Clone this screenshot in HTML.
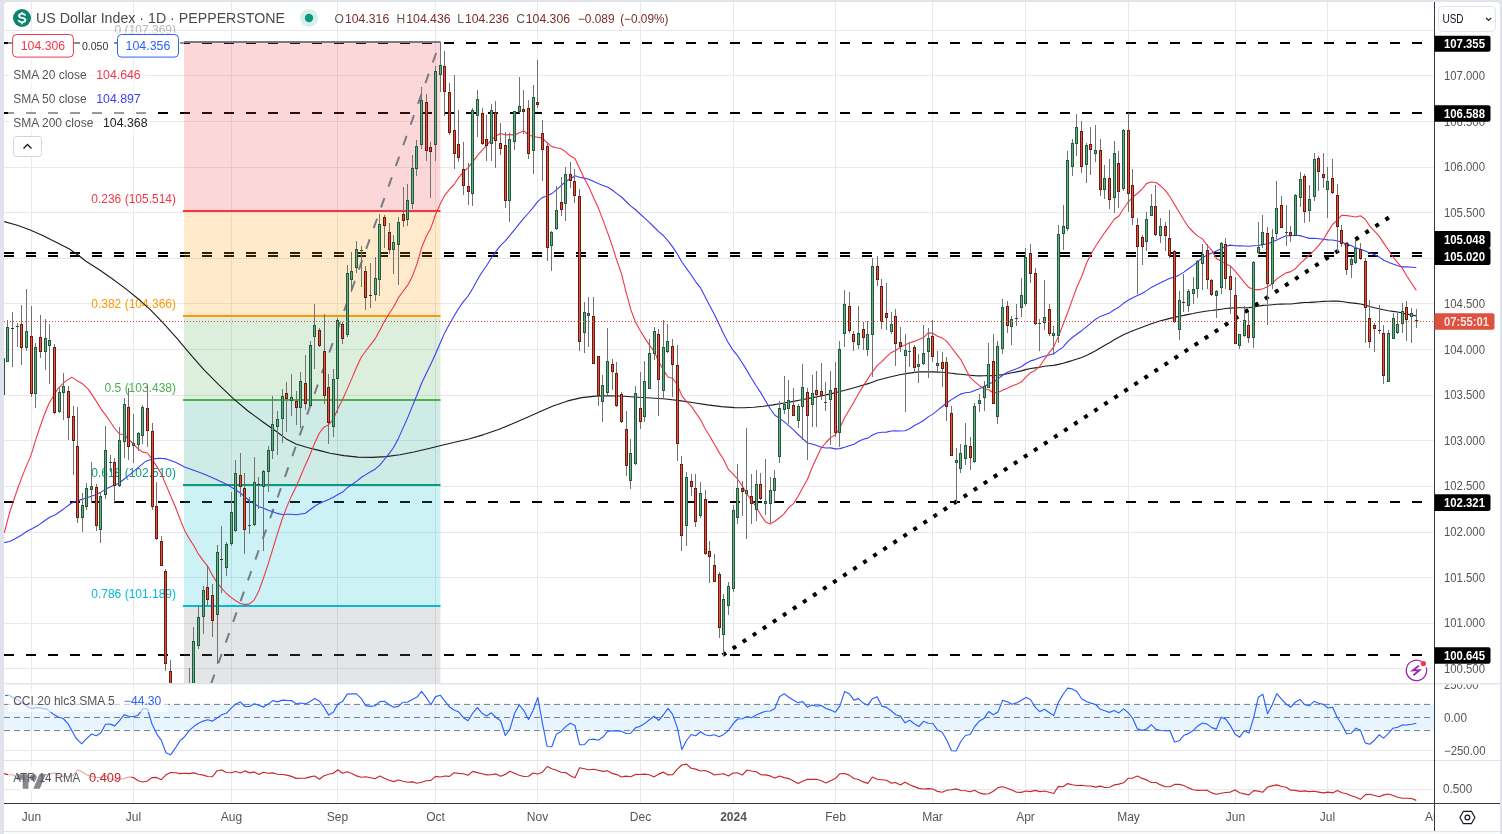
<!DOCTYPE html>
<html><head><meta charset="utf-8"><title>US Dollar Index</title>
<style>
html,body{margin:0;padding:0;background:#e0e3eb;width:1502px;height:834px;overflow:hidden;font-family:"Liberation Sans",sans-serif;}
svg{position:absolute;left:0;top:0;display:block;will-change:transform}
text{font-family:"Liberation Sans",sans-serif;}
</style></head><body>
<svg width="1502" height="834" viewBox="0 0 1502 834">
<defs>
<clipPath id="cpAll"><path d="M4 834V6a4 4 0 0 1 4-4H1496a4 4 0 0 1 4 4V834z"/></clipPath>
<clipPath id="cpMain"><rect x="4" y="2" width="1430" height="681"/></clipPath>
<clipPath id="cpCci"><rect x="4" y="684.4" width="1430" height="75"/></clipPath>
<clipPath id="cpAtr"><rect x="4" y="761" width="1430" height="42"/></clipPath>
<clipPath id="cpCciAx"><rect x="1435" y="684.4" width="65" height="75"/></clipPath>
<clipPath id="cpTime"><rect x="4" y="804" width="1430" height="27"/></clipPath>
</defs>
<path d="M4 834V6a4 4 0 0 1 4-4H1496a4 4 0 0 1 4 4V834z" fill="#ffffff"/>
<g clip-path="url(#cpAll)">
<path d="M31.5 2V803 M133.5 2V803 M231.5 2V803 M337.5 2V803 M435.5 2V803 M537.5 2V803 M640.5 2V803 M733.5 2V803 M835.5 2V803 M932.5 2V803 M1025.5 2V803 M1128.5 2V803 M1235.5 2V803 M1327.5 2V803 M4 75.5H1434 M4 121.5H1434 M4 167.5H1434 M4 212.5H1434 M4 258.5H1434 M4 303.5H1434 M4 349.5H1434 M4 395.5H1434 M4 440.5H1434 M4 486.5H1434 M4 532.5H1434 M4 577.5H1434 M4 623.5H1434 M4 668.5H1434 M4 30.5H1434 M4 750.5H1434 M4 789.5H1434" stroke="#e9e9eb" stroke-width="1" fill="none" shape-rendering="crispEdges"/>
<g clip-path="url(#cpMain)">
<path d="M4 43.0H1432" stroke="#000" stroke-width="2" stroke-dasharray="10 12" fill="none" shape-rendering="crispEdges"/>
<path d="M4 113.0H1432" stroke="#000" stroke-width="2" stroke-dasharray="10 12" fill="none" shape-rendering="crispEdges"/>
<path d="M4 253.0H1432" stroke="#000" stroke-width="2" stroke-dasharray="10 12" fill="none" shape-rendering="crispEdges"/>
<path d="M4 256.0H1432" stroke="#000" stroke-width="2" stroke-dasharray="10 12" fill="none" shape-rendering="crispEdges"/>
<path d="M4 502.0H1432" stroke="#000" stroke-width="2" stroke-dasharray="10 12" fill="none" shape-rendering="crispEdges"/>
<path d="M4 655.0H1432" stroke="#000" stroke-width="2" stroke-dasharray="10 12" fill="none" shape-rendering="crispEdges"/>
<rect x="184" y="41.7" width="256.5" height="169.2" fill="#f23645" fill-opacity="0.2"/>
<rect x="184" y="211.0" width="256.5" height="104.7" fill="#ff9800" fill-opacity="0.2"/>
<rect x="184" y="315.7" width="256.5" height="84.7" fill="#4caf50" fill-opacity="0.2"/>
<rect x="184" y="400.3" width="256.5" height="84.7" fill="#089981" fill-opacity="0.2"/>
<rect x="184" y="485.0" width="256.5" height="120.5" fill="#00bcd4" fill-opacity="0.2"/>
<rect x="184" y="605.5" width="256.5" height="153.4" fill="#787b86" fill-opacity="0.2"/>
<path d="M211 684L440.2 41.7" stroke="#787b86" stroke-width="2" stroke-dasharray="10 12" fill="none"/>
<text x="176" y="33.7" font-size="12" fill="#787b86" fill-opacity="0.55" text-anchor="end">0 (107.369)</text>
<text x="176" y="203.0" font-size="12" fill="#f23645" text-anchor="end">0.236 (105.514)</text>
<text x="176" y="307.7" font-size="12" fill="#ff9800" text-anchor="end">0.382 (104.366)</text>
<text x="176" y="392.3" font-size="12" fill="#4caf50" text-anchor="end">0.5 (103.438)</text>
<text x="176" y="477.0" font-size="12" fill="#089981" text-anchor="end">0.618 (102.510)</text>
<text x="176" y="597.5" font-size="12" fill="#00bcd4" text-anchor="end">0.786 (101.189)</text>
<rect x="183" y="41" width="257.5" height="2" fill="#787b86"/>
<rect x="183" y="210" width="257.5" height="2" fill="#f23645"/>
<rect x="183" y="315" width="257.5" height="2" fill="#ff9800"/>
<rect x="183" y="399" width="257.5" height="2" fill="#4caf50"/>
<rect x="183" y="484" width="257.5" height="2" fill="#089981"/>
<rect x="183" y="605" width="257.5" height="2" fill="#00bcd4"/>
<path d="M722.73 655.10L1389.04 217.39" stroke="#000" stroke-width="4" stroke-dasharray="4 8.015" fill="none"/>
<path d="M4.3 221.6 L17.3 225.3 L30.2 230.0 L43.2 235.7 L56.1 242.2 L69.0 248.7 L77.7 254.8 L86.3 261.5 L99.3 269.7 L112.2 278.8 L125.2 288.4 L138.1 298.7 L151.0 310.4 L164.0 323.8 L177.0 338.3 L190.0 353.8 L203.8 369.7 L219.2 385.1 L233.6 398.8 L248.0 411.0 L263.3 422.2 L276.7 431.7 L286.3 438.9 L295.9 443.9 L307.4 447.5 L318.9 450.4 L330.0 453.2 L344.0 455.6 L358.0 457.1 L372.0 457.4 L385.9 456.6 L399.9 454.8 L413.9 452.0 L427.9 448.7 L441.9 445.3 L455.8 442.0 L469.8 438.7 L483.8 434.6 L497.8 429.7 L511.8 424.1 L525.8 418.1 L539.7 411.8 L553.7 405.8 L567.7 400.9 L581.7 397.6 L595.7 396.1 L609.6 395.8 L623.6 396.3 L637.6 397.2 L651.6 398.0 L665.6 399.0 L679.6 400.6 L693.5 402.8 L707.5 404.9 L721.5 406.6 L734.6 407.6 L744.2 407.7 L753.8 407.2 L763.4 406.2 L773.0 404.9 L782.5 403.3 L792.1 401.6 L801.7 399.7 L811.3 397.9 L820.9 396.0 L830.5 393.9 L840.1 391.5 L849.7 389.0 L859.3 386.3 L868.9 383.4 L877.4 380.3 L888.9 377.3 L899.6 374.8 L909.2 373.1 L918.8 371.9 L932.9 371.9 L937.5 372.1 L942.2 372.3 L946.8 372.7 L951.5 373.3 L956.1 373.9 L960.8 374.2 L965.4 374.7 L970.1 375.2 L974.7 375.6 L979.4 375.9 L984.0 375.7 L988.7 375.6 L993.3 375.7 L998.0 375.3 L1002.6 374.6 L1007.3 373.7 L1011.9 372.7 L1016.6 371.9 L1021.2 370.9 L1025.9 369.6 L1030.5 368.5 L1035.1 367.9 L1039.8 367.2 L1044.4 366.3 L1049.1 365.8 L1053.7 365.4 L1058.4 364.4 L1063.0 363.3 L1067.7 361.9 L1072.3 360.6 L1077.0 359.1 L1081.6 357.4 L1086.3 355.4 L1090.9 353.3 L1095.6 350.8 L1100.2 348.0 L1104.9 345.3 L1109.5 342.7 L1114.2 339.8 L1118.8 337.3 L1123.5 334.8 L1128.1 332.7 L1132.8 330.8 L1137.4 329.0 L1142.1 327.2 L1146.7 325.5 L1151.3 323.7 L1156.0 322.2 L1160.6 320.8 L1165.3 319.6 L1169.9 318.4 L1174.6 317.4 L1179.2 316.2 L1183.9 315.4 L1188.5 314.4 L1193.2 313.5 L1197.8 312.5 L1202.5 311.7 L1207.1 311.0 L1211.8 310.5 L1216.4 309.9 L1221.1 309.2 L1225.7 308.5 L1230.4 308.1 L1235.0 307.8 L1239.7 307.7 L1244.3 307.7 L1249.0 307.6 L1253.6 307.0 L1258.3 306.1 L1262.9 305.4 L1267.5 305.2 L1272.2 304.7 L1276.8 304.3 L1281.5 304.1 L1286.1 304.0 L1290.8 304.0 L1295.4 303.5 L1300.1 302.9 L1304.7 302.5 L1309.4 302.4 L1314.0 302.1 L1318.7 301.7 L1323.3 301.4 L1328.0 301.2 L1332.6 301.0 L1337.3 301.1 L1341.9 301.5 L1346.6 302.2 L1351.2 302.9 L1355.9 303.4 L1360.5 304.0 L1365.2 305.1 L1369.8 306.5 L1374.5 307.7 L1379.1 308.7 L1383.7 309.8 L1388.4 310.7 L1393.0 311.4 L1397.7 312.0 L1402.3 313.0 L1407.0 314.1 L1411.6 315.0 L1416.3 315.9" stroke="#1c1c1c" stroke-width="1.1" fill="none" stroke-linejoin="round"/>
<path d="M4.3 542.6 L9.7 541.5 L15.1 538.7 L21.6 535.0 L27.0 531.3 L32.4 528.5 L38.8 524.9 L44.2 521.0 L49.6 517.3 L55.0 515.0 L60.4 511.3 L65.8 507.4 L71.2 503.3 L76.6 500.9 L82.0 499.4 L88.4 497.3 L94.9 495.1 L101.4 491.9 L105.7 489.1 L110.0 487.1 L118.5 483.5 L125.3 478.2 L132.2 472.6 L139.0 466.9 L145.9 461.2 L152.7 458.9 L159.5 458.2 L166.4 458.9 L175.5 462.3 L184.6 466.9 L193.7 470.3 L205.1 474.4 L216.5 479.4 L227.9 485.1 L235.7 489.8 L240.3 493.0 L245.0 497.0 L249.6 501.0 L254.3 503.7 L258.9 506.7 L263.6 508.3 L268.2 510.3 L272.9 511.8 L277.5 513.4 L282.2 514.5 L286.8 514.2 L291.5 514.3 L296.1 514.8 L300.8 514.0 L305.4 513.3 L310.1 509.8 L314.7 506.2 L319.4 503.4 L324.0 501.6 L328.7 499.5 L333.3 497.2 L337.9 494.6 L342.6 492.1 L347.2 487.9 L351.9 484.5 L356.5 481.4 L361.2 477.5 L365.8 474.6 L370.5 471.8 L375.1 469.2 L379.8 465.1 L384.4 459.5 L389.1 453.7 L393.7 447.2 L398.4 438.4 L403.0 428.1 L407.7 417.6 L412.3 406.4 L417.0 395.0 L421.6 383.2 L426.3 373.4 L430.9 364.1 L435.6 353.7 L440.2 343.0 L444.9 332.4 L449.5 324.0 L454.1 315.9 L458.8 308.2 L463.4 301.6 L468.1 296.0 L472.7 288.5 L477.4 279.8 L482.0 272.2 L486.7 265.5 L491.3 258.0 L496.0 251.4 L500.6 245.4 L505.3 240.9 L509.9 235.3 L514.6 229.6 L519.2 223.8 L523.9 218.1 L528.5 213.0 L533.2 207.3 L537.8 201.3 L542.5 197.4 L547.1 195.9 L551.8 193.6 L556.4 189.9 L561.1 185.6 L565.7 181.5 L570.3 178.7 L575.0 175.8 L579.6 177.2 L584.3 178.1 L588.9 179.3 L593.6 181.6 L598.2 183.6 L602.9 185.4 L607.5 187.0 L612.2 190.0 L616.8 193.6 L621.5 197.0 L626.1 201.5 L630.8 206.1 L635.4 209.5 L640.1 214.0 L644.7 218.2 L649.4 222.3 L654.0 227.0 L658.7 231.6 L663.3 235.5 L668.0 240.9 L672.6 246.9 L677.3 253.9 L681.9 262.0 L686.5 268.4 L691.2 275.0 L695.8 281.8 L700.5 287.8 L705.1 296.7 L709.8 305.8 L714.4 314.6 L719.1 324.3 L723.7 334.0 L728.4 342.9 L733.0 350.2 L737.7 355.9 L742.3 363.0 L747.0 370.6 L751.6 378.5 L756.3 386.0 L760.9 392.9 L765.6 401.0 L770.2 408.7 L774.9 415.2 L779.5 418.4 L784.2 421.9 L788.8 425.7 L793.5 429.8 L798.1 434.5 L802.7 438.6 L807.4 443.0 L812.0 444.0 L816.7 445.6 L821.3 447.3 L826.0 448.0 L830.6 447.9 L835.3 448.9 L839.9 448.6 L844.6 447.3 L849.2 445.8 L853.9 444.2 L858.5 441.6 L863.2 439.2 L867.8 438.1 L872.5 435.0 L877.1 433.0 L881.8 432.3 L886.4 432.1 L891.1 431.0 L895.7 430.9 L900.4 431.0 L905.0 430.7 L909.7 428.8 L914.3 425.5 L918.9 423.2 L923.6 420.5 L928.2 416.9 L932.9 414.1 L937.5 410.3 L942.2 406.5 L946.8 403.0 L951.5 399.6 L956.1 396.8 L960.8 394.1 L965.4 392.8 L970.1 392.2 L974.7 390.5 L979.4 388.7 L984.0 386.4 L988.7 383.9 L993.3 382.1 L998.0 378.9 L1002.6 375.3 L1007.3 372.2 L1011.9 370.5 L1016.6 368.8 L1021.2 366.7 L1025.9 363.5 L1030.5 360.9 L1035.1 359.6 L1039.8 357.7 L1044.4 356.2 L1049.1 355.0 L1053.7 353.7 L1058.4 350.4 L1063.0 347.1 L1067.7 341.6 L1072.3 337.5 L1077.0 334.0 L1081.6 330.7 L1086.3 326.8 L1090.9 323.1 L1095.6 319.3 L1100.2 316.4 L1104.9 314.7 L1109.5 313.1 L1114.2 309.7 L1118.8 307.2 L1123.5 303.3 L1128.1 300.3 L1132.8 297.7 L1137.4 295.6 L1142.1 293.5 L1146.7 290.6 L1151.3 287.4 L1156.0 285.0 L1160.6 282.8 L1165.3 280.4 L1169.9 278.2 L1174.6 277.3 L1179.2 275.1 L1183.9 272.1 L1188.5 268.7 L1193.2 265.4 L1197.8 261.7 L1202.5 257.7 L1207.1 255.1 L1211.8 253.0 L1216.4 251.1 L1221.1 248.7 L1225.7 246.2 L1230.4 245.1 L1235.0 245.8 L1239.7 245.9 L1244.3 246.0 L1249.0 246.3 L1253.6 245.7 L1258.3 245.5 L1262.9 244.6 L1267.5 243.8 L1272.2 242.1 L1276.8 239.9 L1281.5 237.8 L1286.1 235.8 L1290.8 235.8 L1295.4 235.2 L1300.1 235.6 L1304.7 237.0 L1309.4 238.4 L1314.0 238.2 L1318.7 238.8 L1323.3 239.3 L1328.0 239.9 L1332.6 240.0 L1337.3 241.0 L1341.9 241.9 L1346.6 244.2 L1351.2 245.6 L1355.9 247.9 L1360.5 249.2 L1365.2 251.1 L1369.8 253.0 L1374.5 254.6 L1379.1 256.9 L1383.7 260.3 L1388.4 262.2 L1393.0 264.1 L1397.7 265.8 L1402.3 266.9 L1407.0 266.9 L1411.6 267.2 L1416.3 267.5" stroke="#3a3ff5" stroke-width="1.1" fill="none" stroke-linejoin="round"/>
<path d="M4.3 532.9 L6.5 524.2 L9.7 512.4 L12.9 502.7 L17.3 489.7 L21.6 477.9 L25.9 467.1 L30.2 457.4 L32.4 450.9 L35.6 440.1 L39.9 427.2 L44.2 415.3 L48.5 404.5 L52.8 397.0 L58.2 388.3 L64.7 381.9 L71.8 377.1 L76.6 380.4 L82.0 383.4 L88.4 389.4 L94.9 399.1 L100.9 408.8 L105.5 414.9 L110.2 421.7 L114.8 428.5 L119.5 434.0 L124.1 434.5 L128.8 439.5 L133.4 444.0 L138.1 448.8 L142.7 452.1 L147.4 453.0 L152.0 458.8 L156.7 466.4 L161.3 473.8 L166.0 484.9 L170.6 495.8 L175.3 506.7 L179.9 518.7 L184.6 530.4 L189.2 538.6 L193.9 545.8 L198.5 554.2 L203.2 560.6 L207.8 566.3 L212.5 575.4 L217.1 582.7 L221.7 588.4 L226.4 593.5 L231.0 597.4 L235.7 600.7 L240.3 603.5 L245.0 604.6 L249.6 603.9 L254.3 599.8 L258.9 590.8 L263.6 577.6 L268.2 563.9 L272.9 548.7 L277.5 533.6 L282.2 519.0 L286.8 506.9 L291.5 495.9 L296.1 486.8 L300.8 475.8 L305.4 464.9 L310.1 454.6 L314.7 442.9 L319.4 433.0 L324.0 427.2 L328.7 424.7 L333.3 419.3 L337.9 408.8 L342.6 399.5 L347.2 389.1 L351.9 378.4 L356.5 367.3 L361.2 357.3 L365.8 351.0 L370.5 344.8 L375.1 338.9 L379.8 330.2 L384.4 321.6 L389.1 313.7 L393.7 306.8 L398.4 297.7 L403.0 291.5 L407.7 285.2 L412.3 276.4 L417.0 263.9 L421.6 247.7 L426.3 236.3 L430.9 227.9 L435.6 214.5 L440.2 204.1 L444.9 195.1 L449.5 189.3 L454.1 184.5 L458.8 177.4 L463.4 171.9 L468.1 167.6 L472.7 161.9 L477.4 155.6 L482.0 150.3 L486.7 145.4 L491.3 139.8 L496.0 135.9 L500.6 133.3 L505.3 134.9 L509.9 134.6 L514.6 135.1 L519.2 132.8 L523.9 130.8 L528.5 135.0 L533.2 136.6 L537.8 137.2 L542.5 138.1 L547.1 142.8 L551.8 146.6 L556.4 147.8 L561.1 148.7 L565.7 151.9 L570.3 156.0 L575.0 158.5 L579.6 168.4 L584.3 178.5 L588.9 187.1 L593.6 197.8 L598.2 207.6 L602.9 219.9 L607.5 232.4 L612.2 245.7 L616.8 260.4 L621.5 273.8 L626.1 292.2 L630.8 309.7 L635.4 321.8 L640.1 330.5 L644.7 337.9 L649.4 345.1 L654.0 351.1 L658.7 361.5 L663.3 369.8 L668.0 377.0 L672.6 378.2 L677.3 384.8 L681.9 395.9 L686.5 401.6 L691.2 406.1 L695.8 412.9 L700.5 419.6 L705.1 428.7 L709.8 436.3 L714.4 444.3 L719.1 452.4 L723.7 459.7 L728.4 469.4 L733.0 473.8 L737.7 479.2 L742.3 486.1 L747.0 494.1 L751.6 500.3 L756.3 507.1 L760.9 515.1 L765.6 521.9 L770.2 524.1 L774.9 521.3 L779.5 517.8 L784.2 513.7 L788.8 507.6 L793.5 503.7 L798.1 496.3 L802.7 487.8 L807.4 479.5 L812.0 467.7 L816.7 457.5 L821.3 447.9 L826.0 442.5 L830.6 437.6 L835.3 434.7 L839.9 427.7 L844.6 417.7 L849.2 410.0 L853.9 402.1 L858.5 393.7 L863.2 386.1 L867.8 378.9 L872.5 371.8 L877.1 365.6 L881.8 361.7 L886.4 356.8 L891.1 352.7 L895.7 350.5 L900.4 347.1 L905.0 345.0 L909.7 342.8 L914.3 341.4 L918.9 339.5 L923.6 337.6 L928.2 332.9 L932.9 333.2 L937.5 336.2 L942.2 338.1 L946.8 341.4 L951.5 347.5 L956.1 353.6 L960.8 359.6 L965.4 368.5 L970.1 377.4 L974.7 381.6 L979.4 385.7 L984.0 388.8 L988.7 389.8 L993.3 392.7 L998.0 392.4 L1002.6 390.3 L1007.3 388.2 L1011.9 386.0 L1016.6 384.2 L1021.2 382.1 L1025.9 377.1 L1030.5 372.7 L1035.1 370.4 L1039.8 366.2 L1044.4 359.2 L1049.1 352.9 L1053.7 346.9 L1058.4 336.4 L1063.0 324.8 L1067.7 312.5 L1072.3 299.6 L1077.0 286.7 L1081.6 276.8 L1086.3 263.8 L1090.9 254.0 L1095.6 246.2 L1100.2 239.3 L1104.9 232.3 L1109.5 226.3 L1114.2 219.3 L1118.8 216.0 L1123.5 208.8 L1128.1 202.3 L1132.8 197.0 L1137.4 193.5 L1142.1 189.1 L1146.7 183.4 L1151.3 182.0 L1156.0 182.5 L1160.6 185.8 L1165.3 190.4 L1169.9 196.8 L1174.6 204.6 L1179.2 212.3 L1183.9 220.0 L1188.5 227.0 L1193.2 232.0 L1197.8 236.1 L1202.5 238.9 L1207.1 245.2 L1211.8 250.3 L1216.4 258.4 L1221.1 260.9 L1225.7 263.9 L1230.4 266.1 L1235.0 270.9 L1239.7 276.7 L1244.3 282.4 L1249.0 287.6 L1253.6 289.4 L1258.3 289.9 L1262.9 288.7 L1267.5 286.8 L1272.2 283.7 L1276.8 278.9 L1281.5 275.8 L1286.1 272.9 L1290.8 271.6 L1295.4 268.7 L1300.1 263.6 L1304.7 259.5 L1309.4 254.9 L1314.0 250.7 L1318.7 245.3 L1323.3 239.7 L1328.0 231.6 L1332.6 224.5 L1337.3 219.9 L1341.9 215.2 L1346.6 215.6 L1351.2 216.2 L1355.9 217.0 L1360.5 215.8 L1365.2 219.3 L1369.8 226.1 L1374.5 231.1 L1379.1 236.1 L1383.7 243.1 L1388.4 250.0 L1393.0 257.0 L1397.7 262.6 L1402.3 268.2 L1407.0 276.2 L1411.6 283.3 L1416.3 290.4" stroke="#f23645" stroke-width="1.1" fill="none" stroke-linejoin="round"/>
<path d="M3.5 358V395 M7.5 320V362 M12.5 312V367 M17.5 323V347 M21.5 305V365 M26.5 289V351 M31.5 306V397 M35.5 343V408 M40.5 315V358 M45.5 319V370 M49.5 324V384 M54.5 344V414 M59.5 387V413 M63.5 373V420 M68.5 386V440 M73.5 406V475 M77.5 407V523 M82.5 493V532 M86.5 483V510 M91.5 462V503 M96.5 484V531 M100.5 492V543 M105.5 426V499 M110.5 455V472 M114.5 458V502 M119.5 427V487 M124.5 398V458 M128.5 388V460 M133.5 414V463 M138.5 432V451 M142.5 405V444 M147.5 385V447 M152.5 423V510 M156.5 482V540 M161.5 536V566 M165.5 569V671 M170.5 660V740 M175.5 712V768 M179.5 703V752 M184.5 708V770 M189.5 668V722 M193.5 627V692 M198.5 606V649 M203.5 586V634 M207.5 565V606 M212.5 584V637 M217.5 545V664 M221.5 526V593 M226.5 542V576 M231.5 492V546 M235.5 460V532 M240.5 453V497 M244.5 473V554 M249.5 497V534 M254.5 457V526 M258.5 477V509 M263.5 470V551 M268.5 446V492 M272.5 396V459 M277.5 411V455 M282.5 389V443 M286.5 382V432 M291.5 374V416 M296.5 391V425 M300.5 372V428 M305.5 355V410 M310.5 341V407 M314.5 304V369 M319.5 328V347 M324.5 314V404 M328.5 374V444 M333.5 369V437 M337.5 318V413 M342.5 322V344 M347.5 265V337 M351.5 252V292 M356.5 241V273 M361.5 246V287 M365.5 266V310 M370.5 263V308 M375.5 257V301 M379.5 214V296 M384.5 215V248 M389.5 223V254 M393.5 235V274 M398.5 217V285 M403.5 187V227 M407.5 184V226 M412.5 155V209 M416.5 140V176 M421.5 87V149 M426.5 94V161 M430.5 142V198 M435.5 66V161 M440.5 42V92 M444.5 51V116 M449.5 83V135 M454.5 75V169 M458.5 110V162 M463.5 142V195 M468.5 163V205 M472.5 108V206 M477.5 90V137 M482.5 108V145 M486.5 115V161 M491.5 104V161 M495.5 101V168 M500.5 123V155 M505.5 132V208 M509.5 133V222 M514.5 111V150 M519.5 77V113 M523.5 90V134 M528.5 100V159 M533.5 85V174 M537.5 60V108 M542.5 120V181 M547.5 142V261 M551.5 231V271 M556.5 186V230 M561.5 177V216 M565.5 167V221 M570.5 162V188 M574.5 169V203 M579.5 189V351 M584.5 302V353 M588.5 297V347 M593.5 297V364 M598.5 356V406 M602.5 375V422 M607.5 328V395 M612.5 359V390 M616.5 362V407 M621.5 392V423 M626.5 411V476 M630.5 439V489 M635.5 386V465 M640.5 372V429 M644.5 361V422 M649.5 339V389 M654.5 327V360 M658.5 329V416 M663.5 320V398 M667.5 324V353 M672.5 339V397 M677.5 345V461 M681.5 456V551 M686.5 472V546 M691.5 474V496 M695.5 474V527 M700.5 482V518 M705.5 490V555 M709.5 541V583 M714.5 554V582 M719.5 572V638 M723.5 594V656 M728.5 582V615 M733.5 505V592 M737.5 464V524 M742.5 481V516 M746.5 428V539 M751.5 474V524 M756.5 470V521 M760.5 473V500 M765.5 459V515 M770.5 477V523 M774.5 470V502 M779.5 401V463 M784.5 376V414 M788.5 380V424 M793.5 388V416 M798.5 404V428 M802.5 364V440 M807.5 388V460 M812.5 375V427 M816.5 371V427 M821.5 363V400 M825.5 382V411 M830.5 371V445 M835.5 362V437 M839.5 341V447 M844.5 290V347 M849.5 292V333 M853.5 331V351 M858.5 306V349 M863.5 322V350 M867.5 321V356 M872.5 258V377 M877.5 256V286 M881.5 279V329 M886.5 283V330 M891.5 312V334 M895.5 309V366 M900.5 327V352 M905.5 334V412 M909.5 342V367 M914.5 345V373 M918.5 354V383 M923.5 325V365 M928.5 328V378 M932.5 320V362 M937.5 351V372 M942.5 352V387 M946.5 357V421 M951.5 406V456 M956.5 448V503 M960.5 444V473 M965.5 423V465 M970.5 437V470 M974.5 403V463 M979.5 394V412 M984.5 381V411 M988.5 343V388 M993.5 334V404 M997.5 341V424 M1002.5 299V354 M1007.5 301V333 M1011.5 316V345 M1016.5 304V326 M1021.5 278V317 M1025.5 248V306 M1030.5 244V283 M1035.5 268V325 M1039.5 319V351 M1044.5 280V330 M1049.5 304V336 M1053.5 326V355 M1058.5 225V343 M1063.5 205V250 M1067.5 151V231 M1072.5 139V176 M1076.5 114V156 M1081.5 121V173 M1086.5 143V183 M1090.5 127V175 M1095.5 125V162 M1100.5 139V196 M1104.5 165V199 M1109.5 159V209 M1114.5 141V213 M1118.5 151V208 M1123.5 129V191 M1128.5 113V212 M1132.5 169V225 M1137.5 218V294 M1142.5 235V265 M1146.5 212V251 M1151.5 194V216 M1155.5 185V236 M1160.5 218V243 M1165.5 222V251 M1169.5 210V258 M1174.5 250V323 M1179.5 291V340 M1183.5 274V312 M1188.5 289V312 M1193.5 277V304 M1197.5 260V298 M1202.5 244V290 M1207.5 244V289 M1211.5 279V296 M1216.5 290V318 M1221.5 242V294 M1225.5 238V289 M1230.5 266V314 M1235.5 277V344 M1239.5 334V349 M1244.5 306V337 M1248.5 312V343 M1253.5 261V348 M1258.5 222V254 M1262.5 215V248 M1267.5 227V325 M1272.5 229V289 M1276.5 181V239 M1281.5 196V228 M1286.5 205V246 M1290.5 226V242 M1295.5 194V236 M1300.5 172V207 M1304.5 174V223 M1309.5 185V222 M1314.5 153V201 M1318.5 156V191 M1323.5 153V188 M1327.5 167V218 M1332.5 159V194 M1337.5 184V252 M1341.5 225V247 M1346.5 242V275 M1351.5 257V278 M1355.5 240V264 M1360.5 243V260 M1365.5 258V343 M1369.5 300V348 M1374.5 323V352 M1379.5 305V334 M1383.5 325V384 M1388.5 330V382 M1393.5 313V339 M1397.5 313V334 M1402.5 303V333 M1406.5 301V341 M1411.5 308V343 M1416.5 309V328" stroke="#727272" stroke-width="1" fill="none" shape-rendering="crispEdges"/>
<path d="M2 358h3v37h-3z M6 327h3v35h-3z M16 326h3v1h-3z M25 331h3v17h-3z M34 347h3v47h-3z M44 338h3v14h-3z M48 340h3v6h-3z M58 392h3v20h-3z M62 386h3v7h-3z M81 505h3v13h-3z M85 488h3v19h-3z M90 486h3v4h-3z M99 496h3v34h-3z M104 450h3v45h-3z M109 462h3v1h-3z M118 440h3v46h-3z M123 404h3v38h-3z M132 443h3v3h-3z M137 433h3v12h-3z M141 407h3v29h-3z M174 723h3v12h-3z M183 720h3v9h-3z M188 689h3v31h-3z M192 641h3v48h-3z M197 617h3v29h-3z M202 590h3v27h-3z M216 552h3v63h-3z M225 544h3v24h-3z M230 512h3v32h-3z M234 473h3v58h-3z M248 525h3v1h-3z M253 482h3v43h-3z M262 471h3v16h-3z M267 450h3v22h-3z M271 424h3v27h-3z M276 419h3v8h-3z M281 396h3v23h-3z M290 397h3v4h-3z M299 381h3v27h-3z M309 345h3v61h-3z M313 325h3v12h-3z M332 379h3v48h-3z M336 320h3v59h-3z M346 273h3v62h-3z M350 271h3v9h-3z M355 249h3v19h-3z M360 250h3v1h-3z M374 278h3v17h-3z M378 224h3v56h-3z M392 242h3v8h-3z M397 222h3v23h-3z M406 200h3v20h-3z M411 168h3v36h-3z M415 146h3v23h-3z M420 100h3v45h-3z M434 71h3v74h-3z M439 65h3v10h-3z M471 110h3v84h-3z M476 99h3v17h-3z M490 110h3v34h-3z M508 139h3v62h-3z M513 111h3v31h-3z M518 106h3v6h-3z M532 97h3v54h-3z M550 232h3v14h-3z M555 210h3v19h-3z M564 174h3v30h-3z M583 312h3v21h-3z M587 313h3v3h-3z M601 385h3v17h-3z M606 361h3v32h-3z M629 453h3v28h-3z M634 393h3v71h-3z M643 381h3v36h-3z M648 353h3v36h-3z M653 331h3v23h-3z M662 347h3v44h-3z M666 341h3v11h-3z M685 477h3v49h-3z M699 493h3v23h-3z M722 599h3v36h-3z M727 586h3v20h-3z M732 510h3v79h-3z M736 488h3v30h-3z M745 490h3v4h-3z M755 484h3v26h-3z M764 501h3v3h-3z M769 490h3v14h-3z M773 478h3v13h-3z M778 408h3v49h-3z M783 404h3v6h-3z M787 400h3v9h-3z M797 406h3v15h-3z M801 387h3v20h-3z M811 393h3v12h-3z M824 402h3v1h-3z M829 390h3v10h-3z M838 349h3v84h-3z M843 304h3v30h-3z M857 333h3v12h-3z M866 334h3v16h-3z M871 266h3v69h-3z M890 324h3v8h-3z M904 350h3v6h-3z M908 351h3v1h-3z M917 364h3v3h-3z M922 353h3v11h-3z M927 338h3v14h-3z M936 363h3v3h-3z M955 460h3v3h-3z M959 453h3v16h-3z M964 445h3v14h-3z M973 406h3v56h-3z M978 400h3v4h-3z M983 386h3v12h-3z M987 364h3v24h-3z M996 346h3v71h-3z M1001 307h3v42h-3z M1010 319h3v8h-3z M1020 295h3v13h-3z M1024 257h3v47h-3z M1038 323h3v1h-3z M1043 317h3v6h-3z M1052 333h3v3h-3z M1057 234h3v102h-3z M1062 226h3v8h-3z M1066 160h3v69h-3z M1071 143h3v24h-3z M1075 127h3v17h-3z M1085 145h3v20h-3z M1094 150h3v4h-3z M1103 178h3v12h-3z M1113 153h3v45h-3z M1122 130h3v59h-3z M1145 219h3v23h-3z M1150 206h3v10h-3z M1159 226h3v10h-3z M1178 300h3v30h-3z M1187 291h3v15h-3z M1192 289h3v5h-3z M1196 261h3v28h-3z M1201 254h3v10h-3z M1215 291h3v5h-3z M1220 243h3v45h-3z M1238 334h3v12h-3z M1243 320h3v16h-3z M1252 262h3v76h-3z M1257 247h3v6h-3z M1261 232h3v13h-3z M1271 237h3v47h-3z M1275 208h3v26h-3z M1285 232h3v1h-3z M1294 195h3v41h-3z M1299 179h3v19h-3z M1308 199h3v12h-3z M1313 159h3v38h-3z M1326 181h3v9h-3z M1350 259h3v6h-3z M1354 248h3v15h-3z M1387 333h3v49h-3z M1392 318h3v21h-3z M1396 324h3v9h-3z M1401 311h3v13h-3z M1410 313h3v4h-3z" fill="#1f5c3c" shape-rendering="crispEdges"/>
<path d="M3 359h1v35h-1z M7 328h1v33h-1z M26 332h1v15h-1z M35 348h1v45h-1z M45 339h1v12h-1z M49 341h1v4h-1z M59 393h1v18h-1z M63 387h1v5h-1z M82 506h1v11h-1z M86 489h1v17h-1z M91 487h1v2h-1z M100 497h1v32h-1z M105 451h1v43h-1z M119 441h1v44h-1z M124 405h1v36h-1z M133 444h1v1h-1z M138 434h1v10h-1z M142 408h1v27h-1z M175 724h1v10h-1z M184 721h1v7h-1z M189 690h1v29h-1z M193 642h1v46h-1z M198 618h1v27h-1z M203 591h1v25h-1z M217 553h1v61h-1z M226 545h1v22h-1z M231 513h1v30h-1z M235 474h1v56h-1z M254 483h1v41h-1z M263 472h1v14h-1z M268 451h1v20h-1z M272 425h1v25h-1z M277 420h1v6h-1z M282 397h1v21h-1z M291 398h1v2h-1z M300 382h1v25h-1z M310 346h1v59h-1z M314 326h1v10h-1z M333 380h1v46h-1z M337 321h1v57h-1z M347 274h1v60h-1z M351 272h1v7h-1z M356 250h1v17h-1z M375 279h1v15h-1z M379 225h1v54h-1z M393 243h1v6h-1z M398 223h1v21h-1z M407 201h1v18h-1z M412 169h1v34h-1z M416 147h1v21h-1z M421 101h1v43h-1z M435 72h1v72h-1z M440 66h1v8h-1z M472 111h1v82h-1z M477 100h1v15h-1z M491 111h1v32h-1z M509 140h1v60h-1z M514 112h1v29h-1z M519 107h1v4h-1z M533 98h1v52h-1z M551 233h1v12h-1z M556 211h1v17h-1z M565 175h1v28h-1z M584 313h1v19h-1z M588 314h1v1h-1z M602 386h1v15h-1z M607 362h1v30h-1z M630 454h1v26h-1z M635 394h1v69h-1z M644 382h1v34h-1z M649 354h1v34h-1z M654 332h1v21h-1z M663 348h1v42h-1z M667 342h1v9h-1z M686 478h1v47h-1z M700 494h1v21h-1z M723 600h1v34h-1z M728 587h1v18h-1z M733 511h1v77h-1z M737 489h1v28h-1z M746 491h1v2h-1z M756 485h1v24h-1z M765 502h1v1h-1z M770 491h1v12h-1z M774 479h1v11h-1z M779 409h1v47h-1z M784 405h1v4h-1z M788 401h1v7h-1z M798 407h1v13h-1z M802 388h1v18h-1z M812 394h1v10h-1z M830 391h1v8h-1z M839 350h1v82h-1z M844 305h1v28h-1z M858 334h1v10h-1z M867 335h1v14h-1z M872 267h1v67h-1z M891 325h1v6h-1z M905 351h1v4h-1z M918 365h1v1h-1z M923 354h1v9h-1z M928 339h1v12h-1z M937 364h1v1h-1z M956 461h1v1h-1z M960 454h1v14h-1z M965 446h1v12h-1z M974 407h1v54h-1z M979 401h1v2h-1z M984 387h1v10h-1z M988 365h1v22h-1z M997 347h1v69h-1z M1002 308h1v40h-1z M1011 320h1v6h-1z M1021 296h1v11h-1z M1025 258h1v45h-1z M1044 318h1v4h-1z M1053 334h1v1h-1z M1058 235h1v100h-1z M1063 227h1v6h-1z M1067 161h1v67h-1z M1072 144h1v22h-1z M1076 128h1v15h-1z M1086 146h1v18h-1z M1095 151h1v2h-1z M1104 179h1v10h-1z M1114 154h1v43h-1z M1123 131h1v57h-1z M1146 220h1v21h-1z M1151 207h1v8h-1z M1160 227h1v8h-1z M1179 301h1v28h-1z M1188 292h1v13h-1z M1193 290h1v3h-1z M1197 262h1v26h-1z M1202 255h1v8h-1z M1216 292h1v3h-1z M1221 244h1v43h-1z M1239 335h1v10h-1z M1244 321h1v14h-1z M1253 263h1v74h-1z M1258 248h1v4h-1z M1262 233h1v11h-1z M1272 238h1v45h-1z M1276 209h1v24h-1z M1295 196h1v39h-1z M1300 180h1v17h-1z M1309 200h1v10h-1z M1314 160h1v36h-1z M1327 182h1v7h-1z M1351 260h1v4h-1z M1355 249h1v13h-1z M1388 334h1v47h-1z M1393 319h1v19h-1z M1397 325h1v7h-1z M1402 312h1v11h-1z M1411 314h1v2h-1z" fill="#6da886" shape-rendering="crispEdges"/>
<path d="M11 328h3v1h-3z M20 324h3v24h-3z M30 336h3v58h-3z M39 337h3v15h-3z M53 347h3v66h-3z M67 391h3v27h-3z M72 416h3v25h-3z M76 446h3v72h-3z M95 487h3v39h-3z M113 462h3v24h-3z M127 407h3v40h-3z M146 408h3v23h-3z M151 431h3v76h-3z M155 506h3v33h-3z M160 541h3v25h-3z M164 571h3v93h-3z M169 671h3v64h-3z M178 722h3v7h-3z M206 587h3v13h-3z M211 595h3v26h-3z M220 559h3v1h-3z M239 475h3v12h-3z M243 488h3v42h-3z M257 484h3v1h-3z M285 393h3v6h-3z M295 401h3v7h-3z M304 383h3v21h-3z M318 330h3v16h-3z M323 351h3v45h-3z M327 387h3v36h-3z M341 324h3v15h-3z M364 271h3v27h-3z M369 295h3v1h-3z M383 217h3v9h-3z M388 232h3v18h-3z M402 214h3v7h-3z M425 102h3v49h-3z M429 147h3v5h-3z M443 66h3v26h-3z M448 92h3v41h-3z M453 130h3v24h-3z M457 144h3v14h-3z M462 169h3v17h-3z M467 186h3v6h-3z M481 113h3v31h-3z M485 139h3v7h-3z M494 112h3v29h-3z M499 143h3v6h-3z M504 145h3v56h-3z M522 109h3v3h-3z M527 108h3v46h-3z M536 102h3v3h-3z M541 133h3v17h-3z M546 146h3v102h-3z M560 202h3v8h-3z M569 174h3v7h-3z M573 181h3v15h-3z M578 196h3v146h-3z M592 316h3v48h-3z M597 356h3v40h-3z M611 364h3v8h-3z M615 373h3v33h-3z M620 394h3v28h-3z M625 429h3v37h-3z M639 408h3v14h-3z M657 334h3v46h-3z M671 346h3v19h-3z M676 365h3v79h-3z M680 464h3v72h-3z M690 481h3v6h-3z M694 488h3v34h-3z M704 499h3v55h-3z M708 551h3v6h-3z M713 565h3v17h-3z M718 574h3v54h-3z M741 488h3v4h-3z M750 496h3v8h-3z M759 484h3v15h-3z M792 405h3v11h-3z M806 392h3v24h-3z M815 390h3v5h-3z M820 391h3v5h-3z M834 388h3v45h-3z M848 306h3v25h-3z M852 334h3v8h-3z M862 329h3v9h-3z M876 266h3v14h-3z M880 286h3v36h-3z M885 313h3v5h-3z M894 316h3v28h-3z M899 342h3v5h-3z M913 347h3v21h-3z M931 336h3v21h-3z M941 362h3v7h-3z M945 362h3v45h-3z M950 413h3v43h-3z M969 446h3v12h-3z M992 361h3v43h-3z M1006 306h3v20h-3z M1015 318h3v1h-3z M1029 253h3v21h-3z M1034 273h3v51h-3z M1048 309h3v25h-3z M1080 131h3v36h-3z M1089 144h3v6h-3z M1099 150h3v40h-3z M1108 178h3v22h-3z M1117 163h3v29h-3z M1127 130h3v64h-3z M1131 185h3v33h-3z M1136 225h3v22h-3z M1141 237h3v10h-3z M1154 206h3v29h-3z M1164 226h3v10h-3z M1168 238h3v18h-3z M1173 251h3v71h-3z M1182 302h3v1h-3z M1206 250h3v30h-3z M1210 280h3v15h-3z M1224 244h3v35h-3z M1229 276h3v14h-3z M1234 295h3v49h-3z M1247 325h3v13h-3z M1266 233h3v51h-3z M1280 205h3v23h-3z M1289 232h3v4h-3z M1303 176h3v36h-3z M1317 158h3v14h-3z M1322 174h3v4h-3z M1331 178h3v15h-3z M1336 195h3v32h-3z M1340 230h3v14h-3z M1345 243h3v27h-3z M1359 249h3v10h-3z M1364 261h3v47h-3z M1368 318h3v24h-3z M1373 325h3v4h-3z M1378 330h3v1h-3z M1382 333h3v43h-3z M1405 307h3v13h-3z M1415 320h3v1h-3z" fill="#6a1b10" shape-rendering="crispEdges"/>
<path d="M21 325h1v22h-1z M31 337h1v56h-1z M40 338h1v13h-1z M54 348h1v64h-1z M68 392h1v25h-1z M73 417h1v23h-1z M77 447h1v70h-1z M96 488h1v37h-1z M114 463h1v22h-1z M128 408h1v38h-1z M147 409h1v21h-1z M152 432h1v74h-1z M156 507h1v31h-1z M161 542h1v23h-1z M165 572h1v91h-1z M170 672h1v62h-1z M179 723h1v5h-1z M207 588h1v11h-1z M212 596h1v24h-1z M240 476h1v10h-1z M244 489h1v40h-1z M286 394h1v4h-1z M296 402h1v5h-1z M305 384h1v19h-1z M319 331h1v14h-1z M324 352h1v43h-1z M328 388h1v34h-1z M342 325h1v13h-1z M365 272h1v25h-1z M384 218h1v7h-1z M389 233h1v16h-1z M403 215h1v5h-1z M426 103h1v47h-1z M430 148h1v3h-1z M444 67h1v24h-1z M449 93h1v39h-1z M454 131h1v22h-1z M458 145h1v12h-1z M463 170h1v15h-1z M468 187h1v4h-1z M482 114h1v29h-1z M486 140h1v5h-1z M495 113h1v27h-1z M500 144h1v4h-1z M505 146h1v54h-1z M523 110h1v1h-1z M528 109h1v44h-1z M537 103h1v1h-1z M542 134h1v15h-1z M547 147h1v100h-1z M561 203h1v6h-1z M570 175h1v5h-1z M574 182h1v13h-1z M579 197h1v144h-1z M593 317h1v46h-1z M598 357h1v38h-1z M612 365h1v6h-1z M616 374h1v31h-1z M621 395h1v26h-1z M626 430h1v35h-1z M640 409h1v12h-1z M658 335h1v44h-1z M672 347h1v17h-1z M677 366h1v77h-1z M681 465h1v70h-1z M691 482h1v4h-1z M695 489h1v32h-1z M705 500h1v53h-1z M709 552h1v4h-1z M714 566h1v15h-1z M719 575h1v52h-1z M742 489h1v2h-1z M751 497h1v6h-1z M760 485h1v13h-1z M793 406h1v9h-1z M807 393h1v22h-1z M816 391h1v3h-1z M821 392h1v3h-1z M835 389h1v43h-1z M849 307h1v23h-1z M853 335h1v6h-1z M863 330h1v7h-1z M877 267h1v12h-1z M881 287h1v34h-1z M886 314h1v3h-1z M895 317h1v26h-1z M900 343h1v3h-1z M914 348h1v19h-1z M932 337h1v19h-1z M942 363h1v5h-1z M946 363h1v43h-1z M951 414h1v41h-1z M970 447h1v10h-1z M993 362h1v41h-1z M1007 307h1v18h-1z M1030 254h1v19h-1z M1035 274h1v49h-1z M1049 310h1v23h-1z M1081 132h1v34h-1z M1090 145h1v4h-1z M1100 151h1v38h-1z M1109 179h1v20h-1z M1118 164h1v27h-1z M1128 131h1v62h-1z M1132 186h1v31h-1z M1137 226h1v20h-1z M1142 238h1v8h-1z M1155 207h1v27h-1z M1165 227h1v8h-1z M1169 239h1v16h-1z M1174 252h1v69h-1z M1207 251h1v28h-1z M1211 281h1v13h-1z M1225 245h1v33h-1z M1230 277h1v12h-1z M1235 296h1v47h-1z M1248 326h1v11h-1z M1267 234h1v49h-1z M1281 206h1v21h-1z M1290 233h1v2h-1z M1304 177h1v34h-1z M1318 159h1v12h-1z M1323 175h1v2h-1z M1332 179h1v13h-1z M1337 196h1v30h-1z M1341 231h1v12h-1z M1346 244h1v25h-1z M1360 250h1v8h-1z M1365 262h1v45h-1z M1369 319h1v22h-1z M1374 326h1v2h-1z M1383 334h1v41h-1z M1406 308h1v11h-1z" fill="#de5640" shape-rendering="crispEdges"/>
<path d="M4 321.5H1434" stroke="#d9503c" stroke-width="1" stroke-dasharray="1 2" fill="none" shape-rendering="crispEdges"/>
</g>
<g clip-path="url(#cpCci)">
<rect x="4" y="704.4" width="1430" height="26.2" fill="#2196f3" fill-opacity="0.1"/>
<path d="M4 704.4H1434" stroke="#787b86" stroke-width="1" stroke-dasharray="6 4" fill="none"/>
<path d="M4 717.5H1434" stroke="#787b86" stroke-width="1" stroke-dasharray="6 4" fill="none"/>
<path d="M4 730.6H1434" stroke="#787b86" stroke-width="1" stroke-dasharray="6 4" fill="none"/>
<path d="M5.0 695.7 L8.9 695.0 L12.6 697.5 L20.2 701.3 L26.6 705.9 L31.6 708.4 L36.7 707.6 L41.7 708.1 L46.8 709.4 L53.1 713.9 L58.2 717.0 L63.2 718.5 L68.3 724.1 L75.9 738.0 L81.7 743.8 L86.0 739.2 L91.6 734.0 L96.3 735.7 L100.9 732.7 L105.5 724.3 L110.2 724.1 L114.8 725.9 L119.5 720.6 L124.1 714.9 L128.8 716.2 L133.4 716.8 L138.1 715.2 L142.7 708.8 L147.4 708.7 L152.0 724.1 L156.7 733.8 L161.3 740.4 L166.0 752.8 L170.6 754.8 L175.3 748.2 L179.9 740.9 L184.6 736.7 L189.2 730.7 L193.9 726.3 L198.5 723.2 L203.2 721.1 L207.8 719.7 L212.5 721.1 L217.1 718.1 L221.7 714.7 L226.4 713.3 L231.0 708.4 L235.7 704.1 L240.3 702.0 L245.0 706.5 L249.6 706.5 L254.3 703.7 L258.9 705.3 L263.6 707.1 L268.2 704.0 L272.9 700.6 L277.5 701.9 L282.2 700.1 L286.8 700.4 L291.5 700.6 L296.1 703.7 L300.8 703.0 L305.4 703.9 L310.1 701.4 L314.7 698.5 L319.4 701.2 L324.0 707.2 L328.7 715.1 L333.3 712.2 L337.9 704.1 L342.6 701.4 L347.2 694.1 L351.9 693.9 L356.5 693.9 L361.2 698.3 L365.8 705.6 L370.5 706.4 L375.1 705.8 L379.8 701.6 L384.4 701.3 L389.1 704.8 L393.7 707.2 L398.4 706.4 L403.0 702.2 L407.7 702.1 L412.3 699.4 L417.0 697.1 L421.6 691.4 L426.3 697.6 L430.9 704.8 L435.6 696.6 L440.2 695.2 L444.9 701.1 L449.5 706.9 L454.1 709.9 L458.8 712.1 L463.4 717.7 L468.1 720.8 L472.7 713.2 L477.4 707.7 L482.0 713.2 L486.7 716.0 L491.3 712.8 L496.0 717.5 L500.6 720.8 L505.3 735.5 L509.9 729.1 L514.6 713.2 L519.2 705.0 L523.9 710.6 L528.5 719.5 L533.2 710.2 L537.8 697.4 L542.5 723.7 L547.1 746.5 L551.8 746.7 L556.4 734.2 L561.1 731.4 L565.7 726.6 L570.3 723.2 L575.0 725.4 L579.6 744.7 L584.3 744.7 L588.9 739.8 L593.6 739.1 L598.2 740.2 L602.9 737.1 L607.5 731.4 L612.2 730.8 L616.8 730.9 L621.5 731.3 L626.1 733.5 L630.8 733.2 L635.4 727.9 L640.1 726.3 L644.7 723.6 L649.4 719.8 L654.0 716.2 L658.7 720.3 L663.3 715.0 L668.0 708.4 L672.6 714.4 L677.3 727.6 L681.9 749.6 L686.5 740.5 L691.2 734.5 L695.8 735.8 L700.5 731.7 L705.1 734.8 L709.8 735.8 L714.4 734.8 L719.1 736.7 L723.7 734.4 L728.4 730.5 L733.0 723.9 L737.7 719.0 L742.3 718.8 L747.0 716.5 L751.6 717.8 L756.3 715.0 L760.9 712.9 L765.6 711.2 L770.2 711.0 L774.9 708.4 L779.5 696.7 L784.2 693.8 L788.8 697.3 L793.5 700.3 L798.1 702.7 L802.7 701.6 L807.4 707.1 L812.0 705.0 L816.7 706.2 L821.3 705.4 L826.0 708.5 L830.6 709.9 L835.3 712.2 L839.9 705.9 L844.6 691.6 L849.2 693.7 L853.9 700.1 L858.5 698.6 L863.2 703.1 L867.8 705.2 L872.5 698.7 L877.1 696.7 L881.8 706.1 L886.4 707.4 L891.1 710.8 L895.7 714.8 L900.4 716.1 L905.0 722.8 L909.7 720.3 L914.3 723.8 L918.9 726.5 L923.6 721.3 L928.2 723.2 L932.9 723.5 L937.5 730.0 L942.2 732.3 L946.8 740.3 L951.5 750.7 L956.1 751.0 L960.8 741.5 L965.4 735.5 L970.1 734.5 L974.7 726.5 L979.4 721.1 L984.0 718.4 L988.7 711.5 L993.3 714.7 L998.0 711.9 L1002.6 700.4 L1007.3 701.7 L1011.9 704.3 L1016.6 702.9 L1021.2 700.3 L1025.9 697.4 L1030.5 699.5 L1035.1 707.1 L1039.8 711.7 L1044.4 709.2 L1049.1 712.4 L1053.7 715.6 L1058.4 702.4 L1063.0 694.5 L1067.7 688.1 L1072.3 688.9 L1077.0 691.7 L1081.6 698.7 L1086.3 701.5 L1090.9 703.1 L1095.6 704.5 L1100.2 709.2 L1104.9 710.7 L1109.5 712.4 L1114.2 710.5 L1118.8 712.9 L1123.5 708.9 L1128.1 712.6 L1132.8 718.5 L1137.4 728.9 L1142.1 730.4 L1146.7 729.0 L1151.3 724.7 L1156.0 729.3 L1160.6 730.5 L1165.3 730.7 L1169.9 730.5 L1174.6 742.0 L1179.2 740.8 L1183.9 735.3 L1188.5 733.6 L1193.2 730.6 L1197.8 725.9 L1202.5 723.0 L1207.1 724.1 L1211.8 727.6 L1216.4 729.1 L1221.1 717.2 L1225.7 719.1 L1230.4 725.6 L1235.0 734.0 L1239.7 737.2 L1244.3 730.7 L1249.0 733.1 L1253.6 717.9 L1258.3 697.3 L1262.9 694.3 L1267.5 713.7 L1272.2 704.7 L1276.8 693.6 L1281.5 699.1 L1286.1 704.0 L1290.8 707.2 L1295.4 702.0 L1300.1 699.4 L1304.7 704.8 L1309.4 705.8 L1314.0 701.3 L1318.7 703.3 L1323.3 704.4 L1328.0 708.0 L1332.6 707.2 L1337.3 717.5 L1341.9 724.8 L1346.6 733.8 L1351.2 733.3 L1355.9 728.2 L1360.5 730.2 L1365.2 742.9 L1369.8 744.2 L1374.5 740.2 L1379.1 734.8 L1383.7 738.1 L1388.4 733.4 L1393.0 728.2 L1397.7 727.2 L1402.3 725.1 L1407.0 724.9 L1411.6 724.3 L1416.3 723.3" stroke="#2962ff" stroke-width="1.15" fill="none" stroke-linejoin="round"/>
</g>
<g clip-path="url(#cpAtr)">
<path d="M4.0 773.6 L7.9 774.6 L12.6 774.7 L17.2 777.8 L21.9 777.3 L26.5 776.6 L31.2 773.2 L35.8 772.6 L40.5 774.0 L45.1 774.6 L49.8 774.4 L54.4 772.7 L59.1 775.8 L63.7 776.6 L68.4 776.8 L73.0 775.4 L77.7 769.8 L82.3 771.9 L87.0 774.9 L91.6 776.4 L96.3 777.2 L100.9 777.6 L105.5 775.8 L110.2 779.0 L114.8 779.9 L119.5 779.2 L124.1 778.6 L128.8 776.9 L133.4 777.5 L138.1 780.8 L142.7 782.0 L147.4 781.0 L152.0 777.6 L156.7 777.4 L161.3 779.7 L166.0 774.8 L170.6 772.6 L175.3 772.8 L179.9 773.6 L184.6 773.2 L189.2 773.6 L193.9 772.9 L198.5 774.3 L203.2 775.1 L207.8 776.5 L212.5 776.7 L217.1 770.7 L221.7 770.0 L226.4 772.5 L231.0 772.8 L235.7 771.5 L240.3 773.0 L245.0 770.9 L249.6 772.9 L254.3 771.9 L258.9 774.4 L263.6 772.2 L268.2 773.3 L272.9 772.9 L277.5 774.2 L282.2 774.5 L286.8 775.1 L291.5 776.4 L296.1 778.4 L300.8 778.2 L305.4 778.1 L310.1 776.9 L314.7 776.0 L319.4 779.2 L324.0 775.7 L328.7 774.3 L333.3 773.3 L337.9 769.8 L342.6 773.3 L347.2 771.8 L351.9 773.5 L356.5 775.9 L361.2 777.3 L365.8 776.8 L370.5 777.7 L375.1 778.7 L379.8 776.1 L384.4 778.2 L389.1 780.3 L393.7 781.6 L398.4 780.0 L403.0 781.2 L407.7 782.2 L412.3 781.9 L417.0 783.3 L421.6 782.2 L426.3 780.7 L430.9 780.4 L435.6 776.4 L440.2 777.0 L444.9 776.0 L449.5 776.4 L454.1 772.7 L458.8 773.4 L463.4 773.8 L468.1 775.3 L472.7 771.4 L477.4 772.6 L482.0 773.7 L486.7 774.9 L491.3 774.8 L496.0 773.9 L500.6 776.3 L505.3 774.4 L509.9 771.3 L514.6 773.3 L519.2 775.3 L523.9 776.5 L528.5 776.2 L533.2 773.0 L537.8 774.0 L542.5 772.2 L547.1 766.5 L551.8 768.8 L556.4 770.2 L561.1 772.2 L565.7 772.6 L570.3 775.7 L575.0 777.8 L579.6 767.7 L584.3 768.8 L588.9 769.8 L593.6 769.2 L598.2 770.2 L602.9 771.4 L607.5 770.7 L612.2 773.4 L616.8 774.6 L621.5 777.0 L626.1 776.1 L630.8 776.7 L635.4 774.4 L640.1 774.5 L644.7 774.1 L649.4 774.8 L654.0 777.0 L658.7 774.1 L663.3 772.1 L668.0 774.9 L672.6 774.8 L677.3 769.2 L681.9 765.0 L686.5 764.1 L691.2 768.2 L695.8 769.1 L700.5 771.0 L705.1 770.5 L709.8 772.2 L714.4 775.0 L719.1 774.2 L723.7 773.7 L728.4 776.0 L733.0 773.0 L737.7 772.9 L742.3 775.1 L747.0 770.0 L751.6 771.0 L756.3 771.8 L760.9 774.8 L765.6 774.9 L770.2 775.9 L774.9 778.1 L779.5 776.0 L784.2 777.6 L788.8 778.6 L793.5 781.0 L798.1 783.6 L802.7 781.2 L807.4 779.2 L812.0 779.4 L816.7 779.2 L821.3 780.7 L826.0 782.9 L830.6 780.7 L835.3 778.6 L839.9 773.7 L844.6 773.5 L849.2 775.1 L853.9 778.5 L858.5 779.5 L863.2 781.9 L867.8 783.4 L872.5 777.0 L877.1 779.3 L881.8 779.7 L886.4 780.3 L891.1 783.1 L895.7 782.5 L900.4 785.0 L905.0 782.2 L909.7 784.7 L914.3 786.6 L918.9 788.4 L923.6 789.0 L928.2 788.6 L932.9 789.0 L937.5 791.4 L942.2 792.2 L946.8 790.3 L951.5 789.8 L956.1 788.9 L960.8 790.5 L965.4 790.7 L970.1 791.8 L974.7 790.3 L979.4 792.9 L984.0 794.1 L988.7 793.8 L993.3 791.2 L998.0 787.6 L1002.6 786.8 L1007.3 788.3 L1011.9 790.0 L1016.6 792.2 L1021.2 792.4 L1025.9 791.0 L1030.5 791.6 L1035.1 790.4 L1039.8 791.6 L1044.4 791.0 L1049.1 792.2 L1053.7 793.5 L1058.4 786.4 L1063.0 786.7 L1067.7 783.6 L1072.3 784.8 L1077.0 785.5 L1081.6 785.2 L1086.3 786.0 L1090.9 786.0 L1095.6 787.1 L1100.2 786.1 L1104.9 787.5 L1109.5 787.2 L1114.2 784.9 L1118.8 784.1 L1123.5 782.8 L1128.1 778.3 L1132.8 778.1 L1137.4 776.0 L1142.1 778.4 L1146.7 779.9 L1151.3 782.5 L1156.0 782.5 L1160.6 784.9 L1165.3 786.8 L1169.9 786.7 L1174.6 784.4 L1179.2 784.4 L1183.9 785.5 L1188.5 787.9 L1193.2 789.7 L1197.8 790.4 L1202.5 790.3 L1207.1 790.3 L1211.8 792.9 L1216.4 794.3 L1221.1 793.3 L1225.7 792.5 L1230.4 792.1 L1235.0 789.9 L1239.7 792.7 L1244.3 793.9 L1249.0 794.9 L1253.6 790.6 L1258.3 791.1 L1262.9 792.2 L1267.5 787.1 L1272.2 785.9 L1276.8 784.9 L1281.5 786.5 L1286.1 787.2 L1290.8 790.2 L1295.4 790.4 L1300.1 791.4 L1304.7 790.9 L1309.4 791.6 L1314.0 791.3 L1318.7 792.1 L1323.3 792.9 L1328.0 792.1 L1332.6 792.9 L1337.3 790.6 L1341.9 792.8 L1346.6 793.7 L1351.2 795.7 L1355.9 797.2 L1360.5 799.3 L1365.2 794.9 L1369.8 794.3 L1374.5 795.5 L1379.1 796.7 L1383.7 794.9 L1388.4 794.0 L1393.0 795.5 L1397.7 797.3 L1402.3 798.3 L1407.0 798.2 L1411.6 798.5 L1416.3 800.4" stroke="#c62828" stroke-width="1.15" fill="none" stroke-linejoin="round"/>
</g>
<rect x="4" y="683" width="1496" height="1.4" fill="#e0e3eb"/>
<rect x="4" y="760" width="1496" height="1" fill="#e0e3eb"/>
<rect x="1434" y="2" width="1" height="829" fill="#36383f"/>
<rect x="4" y="803" width="1496" height="1" fill="#36383f"/>
<rect x="4" y="831" width="1496" height="1.2" fill="#e0e3eb"/>
<text x="1444" y="79.9" font-size="12" fill="#555555" textLength="41" lengthAdjust="spacingAndGlyphs">107.000</text>
<text x="1444" y="125.5" font-size="12" fill="#555555" textLength="41" lengthAdjust="spacingAndGlyphs">106.500</text>
<text x="1444" y="171.1" font-size="12" fill="#555555" textLength="41" lengthAdjust="spacingAndGlyphs">106.000</text>
<text x="1444" y="216.7" font-size="12" fill="#555555" textLength="41" lengthAdjust="spacingAndGlyphs">105.500</text>
<text x="1444" y="262.3" font-size="12" fill="#555555" textLength="41" lengthAdjust="spacingAndGlyphs">105.000</text>
<text x="1444" y="308.0" font-size="12" fill="#555555" textLength="41" lengthAdjust="spacingAndGlyphs">104.500</text>
<text x="1444" y="353.6" font-size="12" fill="#555555" textLength="41" lengthAdjust="spacingAndGlyphs">104.000</text>
<text x="1444" y="399.2" font-size="12" fill="#555555" textLength="41" lengthAdjust="spacingAndGlyphs">103.500</text>
<text x="1444" y="444.8" font-size="12" fill="#555555" textLength="41" lengthAdjust="spacingAndGlyphs">103.000</text>
<text x="1444" y="490.4" font-size="12" fill="#555555" textLength="41" lengthAdjust="spacingAndGlyphs">102.500</text>
<text x="1444" y="536.0" font-size="12" fill="#555555" textLength="41" lengthAdjust="spacingAndGlyphs">102.000</text>
<text x="1444" y="581.6" font-size="12" fill="#555555" textLength="41" lengthAdjust="spacingAndGlyphs">101.500</text>
<text x="1444" y="627.2" font-size="12" fill="#555555" textLength="41" lengthAdjust="spacingAndGlyphs">101.000</text>
<text x="1444" y="672.8" font-size="12" fill="#555555" textLength="41" lengthAdjust="spacingAndGlyphs">100.500</text>
<g clip-path="url(#cpCciAx)"><text x="1444" y="688.5" font-size="12" fill="#555555" textLength="34.5" lengthAdjust="spacingAndGlyphs">250.00</text></g>
<text x="1444" y="721.5" font-size="12" fill="#555555" textLength="23" lengthAdjust="spacingAndGlyphs">0.00</text>
<text x="1444" y="754.5" font-size="12" fill="#555555" textLength="41.5" lengthAdjust="spacingAndGlyphs">−250.00</text>
<text x="1443" y="792.8" font-size="12" fill="#555555" textLength="29.3" lengthAdjust="spacingAndGlyphs">0.500</text>
<path d="M1434.5 35.8H1488.5a2 2 0 0 1 2 2V49.8a2 2 0 0 1 -2 2H1434.5z" fill="#000"/>
<text x="1444" y="48.0" font-size="12" font-weight="bold" fill="#fff" textLength="41" lengthAdjust="spacingAndGlyphs">107.355</text>
<path d="M1434.5 105.2H1488.5a2 2 0 0 1 2 2V119.8a2 2 0 0 1 -2 2H1434.5z" fill="#000"/>
<text x="1444" y="117.7" font-size="12" font-weight="bold" fill="#fff" textLength="41" lengthAdjust="spacingAndGlyphs">106.588</text>
<path d="M1434.5 231.1H1488.5a2 2 0 0 1 2 2V246.1a2 2 0 0 1 -2 2H1434.5z" fill="#000"/>
<text x="1444" y="243.8" font-size="12" font-weight="bold" fill="#fff" textLength="41" lengthAdjust="spacingAndGlyphs">105.048</text>
<path d="M1434.5 248.0H1488.5a2 2 0 0 1 2 2V263.0a2 2 0 0 1 -2 2H1434.5z" fill="#000"/>
<text x="1444" y="260.7" font-size="12" font-weight="bold" fill="#fff" textLength="41" lengthAdjust="spacingAndGlyphs">105.020</text>
<path d="M1434.5 494.3H1488.5a2 2 0 0 1 2 2V508.9a2 2 0 0 1 -2 2H1434.5z" fill="#000"/>
<text x="1444" y="506.8" font-size="12" font-weight="bold" fill="#fff" textLength="41" lengthAdjust="spacingAndGlyphs">102.321</text>
<path d="M1434.5 647.2H1488.5a2 2 0 0 1 2 2V661.8a2 2 0 0 1 -2 2H1434.5z" fill="#000"/>
<text x="1444" y="659.7" font-size="12" font-weight="bold" fill="#fff" textLength="41" lengthAdjust="spacingAndGlyphs">100.645</text>
<path d="M1434.5 313.2H1492.5a2 2 0 0 1 2 2V327.8a2 2 0 0 1 -2 2H1434.5z" fill="#dc5140"/>
<text x="1444" y="325.7" font-size="12" font-weight="bold" fill="#fbe3df" textLength="45" lengthAdjust="spacingAndGlyphs">07:55:01</text>
<text x="31.5" y="820.8" font-size="12" fill="#555555" text-anchor="middle">Jun</text>
<text x="133.5" y="820.8" font-size="12" fill="#555555" text-anchor="middle">Jul</text>
<text x="231.5" y="820.8" font-size="12" fill="#555555" text-anchor="middle">Aug</text>
<text x="337.5" y="820.8" font-size="12" fill="#555555" text-anchor="middle">Sep</text>
<text x="435.5" y="820.8" font-size="12" fill="#555555" text-anchor="middle">Oct</text>
<text x="537.5" y="820.8" font-size="12" fill="#555555" text-anchor="middle">Nov</text>
<text x="640.5" y="820.8" font-size="12" fill="#555555" text-anchor="middle">Dec</text>
<text x="733.5" y="820.8" font-size="12" fill="#555555" text-anchor="middle" font-weight="bold">2024</text>
<text x="835.5" y="820.8" font-size="12" fill="#555555" text-anchor="middle">Feb</text>
<text x="932.5" y="820.8" font-size="12" fill="#555555" text-anchor="middle">Mar</text>
<text x="1025.5" y="820.8" font-size="12" fill="#555555" text-anchor="middle">Apr</text>
<text x="1128.5" y="820.8" font-size="12" fill="#555555" text-anchor="middle">May</text>
<text x="1235.5" y="820.8" font-size="12" fill="#555555" text-anchor="middle">Jun</text>
<text x="1327.5" y="820.8" font-size="12" fill="#555555" text-anchor="middle">Jul</text>
<g clip-path="url(#cpTime)"><text x="1424.9" y="820.8" font-size="12" fill="#555555">Aug</text></g>
</g>
<rect x="8" y="64" width="137" height="22" fill="#fff" fill-opacity="0.6"/>
<rect x="8" y="88" width="137" height="22" fill="#fff" fill-opacity="0.6"/>
<rect x="8" y="112" width="142" height="22" fill="#fff" fill-opacity="0.6"/>
<rect x="8" y="690" width="160" height="22" fill="#fff" fill-opacity="0.6"/>
<rect x="8" y="767" width="123" height="22" fill="#fff" fill-opacity="0.6"/>
<circle cx="22" cy="18" r="9" fill="#0c8470"/>
<text x="22" y="22.9" font-size="14.4" font-weight="bold" fill="#fff" text-anchor="middle">S</text>
<rect x="21.3" y="12" width="1.5" height="1.6" fill="#fff"/><rect x="21.3" y="22.7" width="1.5" height="1.6" fill="#fff"/>
<text x="36" y="23.3" font-size="14" fill="#4a4a4a" textLength="249" lengthAdjust="spacingAndGlyphs">US Dollar Index · 1D · PEPPERSTONE</text>
<circle cx="309" cy="18" r="9" fill="#089981" fill-opacity="0.16"/>
<circle cx="309" cy="18" r="4.2" fill="#089981"/>
<text x="334.6" y="22.6" font-size="12" fill="#5a5a5a">O</text>
<text x="345" y="22.6" font-size="12" fill="#7c2a2a" textLength="44.2" lengthAdjust="spacingAndGlyphs">104.316</text>
<text x="396.5" y="22.6" font-size="12" fill="#5a5a5a">H</text>
<text x="406.3" y="22.6" font-size="12" fill="#7c2a2a" textLength="44.2" lengthAdjust="spacingAndGlyphs">104.436</text>
<text x="457.2" y="22.6" font-size="12" fill="#5a5a5a">L</text>
<text x="464.9" y="22.6" font-size="12" fill="#7c2a2a" textLength="44.2" lengthAdjust="spacingAndGlyphs">104.236</text>
<text x="516.3" y="22.6" font-size="12" fill="#5a5a5a">C</text>
<text x="525.8" y="22.6" font-size="12" fill="#7c2a2a" textLength="44.2" lengthAdjust="spacingAndGlyphs">104.306</text>
<text x="577.9" y="22.6" font-size="12" fill="#7c2a2a" textLength="36.6" lengthAdjust="spacingAndGlyphs">−0.089</text>
<text x="620.2" y="22.6" font-size="12" fill="#7c2a2a" textLength="48.2" lengthAdjust="spacingAndGlyphs">(−0.09%)</text>
<rect x="8" y="32" width="176" height="28" fill="#fff" fill-opacity="0.55"/>
<rect x="81" y="38" width="28" height="16" fill="#fff"/>
<rect x="12.6" y="34.5" width="60.8" height="22.6" rx="4" fill="#fff" stroke="#f23645" stroke-width="1"/>
<text x="20.8" y="50.2" font-size="12" fill="#f23645" textLength="44.3" lengthAdjust="spacingAndGlyphs">104.306</text>
<text x="81.9" y="49.6" font-size="10.3" fill="#333" textLength="26.4" lengthAdjust="spacingAndGlyphs">0.050</text>
<rect x="117.5" y="34.5" width="61" height="22.6" rx="4" fill="#fff" stroke="#2962ff" stroke-width="1"/>
<text x="125.6" y="50.2" font-size="12" fill="#2962ff" textLength="44.7" lengthAdjust="spacingAndGlyphs">104.356</text>
<text x="13.3" y="79.1" font-size="12" fill="#555555" textLength="73.4" lengthAdjust="spacingAndGlyphs">SMA 20 close</text>
<text x="96.2" y="79.1" font-size="12" fill="#f23645" textLength="44.5" lengthAdjust="spacingAndGlyphs">104.646</text>
<text x="13.3" y="102.6" font-size="12" fill="#555555" textLength="73.4" lengthAdjust="spacingAndGlyphs">SMA 50 close</text>
<text x="96.2" y="102.6" font-size="12" fill="#3a3ff5" textLength="44.5" lengthAdjust="spacingAndGlyphs">104.897</text>
<text x="13.3" y="126.8" font-size="12" fill="#555555" textLength="80.1" lengthAdjust="spacingAndGlyphs">SMA 200 close</text>
<text x="103" y="126.8" font-size="12" fill="#222" textLength="44.5" lengthAdjust="spacingAndGlyphs">104.368</text>
<rect x="13.5" y="136.5" width="28" height="20" rx="3" fill="#fff" stroke="#d1d4dc" stroke-width="1"/>
<path d="M23.5 148.5l4-4 4 4" stroke="#131722" stroke-width="1.3" fill="none"/>
<text x="13.2" y="704.8" font-size="12" fill="#555555" textLength="101.5" lengthAdjust="spacingAndGlyphs">CCI 20 hlc3 SMA 5</text>
<text x="123.8" y="704.8" font-size="12" fill="#2962ff" textLength="37.5" lengthAdjust="spacingAndGlyphs">−44.30</text>
<rect x="20" y="767" width="22.5" height="24" fill="#fff" fill-opacity="0.9"/>
<g transform="translate(17,770.9) scale(0.815)" fill="#868993"><path d="M14 22H7V11H0V4h14v18zM28 22h-8l7.5-18h8L28 22z"/><circle cx="20" cy="8" r="4"/></g>
<text x="13.3" y="781.8" font-size="12" fill="#555555" textLength="67" lengthAdjust="spacingAndGlyphs">ATR 14 RMA</text>
<text x="89" y="781.8" font-size="12" fill="#c62828" textLength="32" lengthAdjust="spacingAndGlyphs">0.409</text>
<rect x="1438.5" y="6.5" width="57" height="25" rx="4" fill="#fff" stroke="#e0e3eb" stroke-width="1"/>
<text x="1442.5" y="23" font-size="12" fill="#131722" textLength="21" lengthAdjust="spacingAndGlyphs">USD</text>
<path d="M1486 17.8l2.6 2.6 2.6-2.6" stroke="#131722" stroke-width="1.2" fill="none"/>
<circle cx="1416.4" cy="670.3" r="11.5" fill="#fff"/>
<path d="M1421.6 661.6A10.2 10.2 0 1 0 1426.2 667.4" stroke="#9c27b0" stroke-width="1.3" fill="none"/>
<path d="M1418.8 665.8l-6.1 4.7l6.8 -0.3l-6.1 5" stroke="#9c27b0" stroke-width="1.8" fill="none" stroke-linejoin="miter"/>
<circle cx="1423.4" cy="663.6" r="2.6" fill="#f23645"/>
<path d="M1459.9 817.5L1463.4 811.3H1471.4L1474.9 817.5L1471.4 823.7H1463.4z" stroke="#131722" stroke-width="1.2" fill="none" stroke-linejoin="round"/>
<circle cx="1467.4" cy="817.5" r="2.4" stroke="#131722" stroke-width="1.2" fill="none"/>
</svg>
</body></html>
